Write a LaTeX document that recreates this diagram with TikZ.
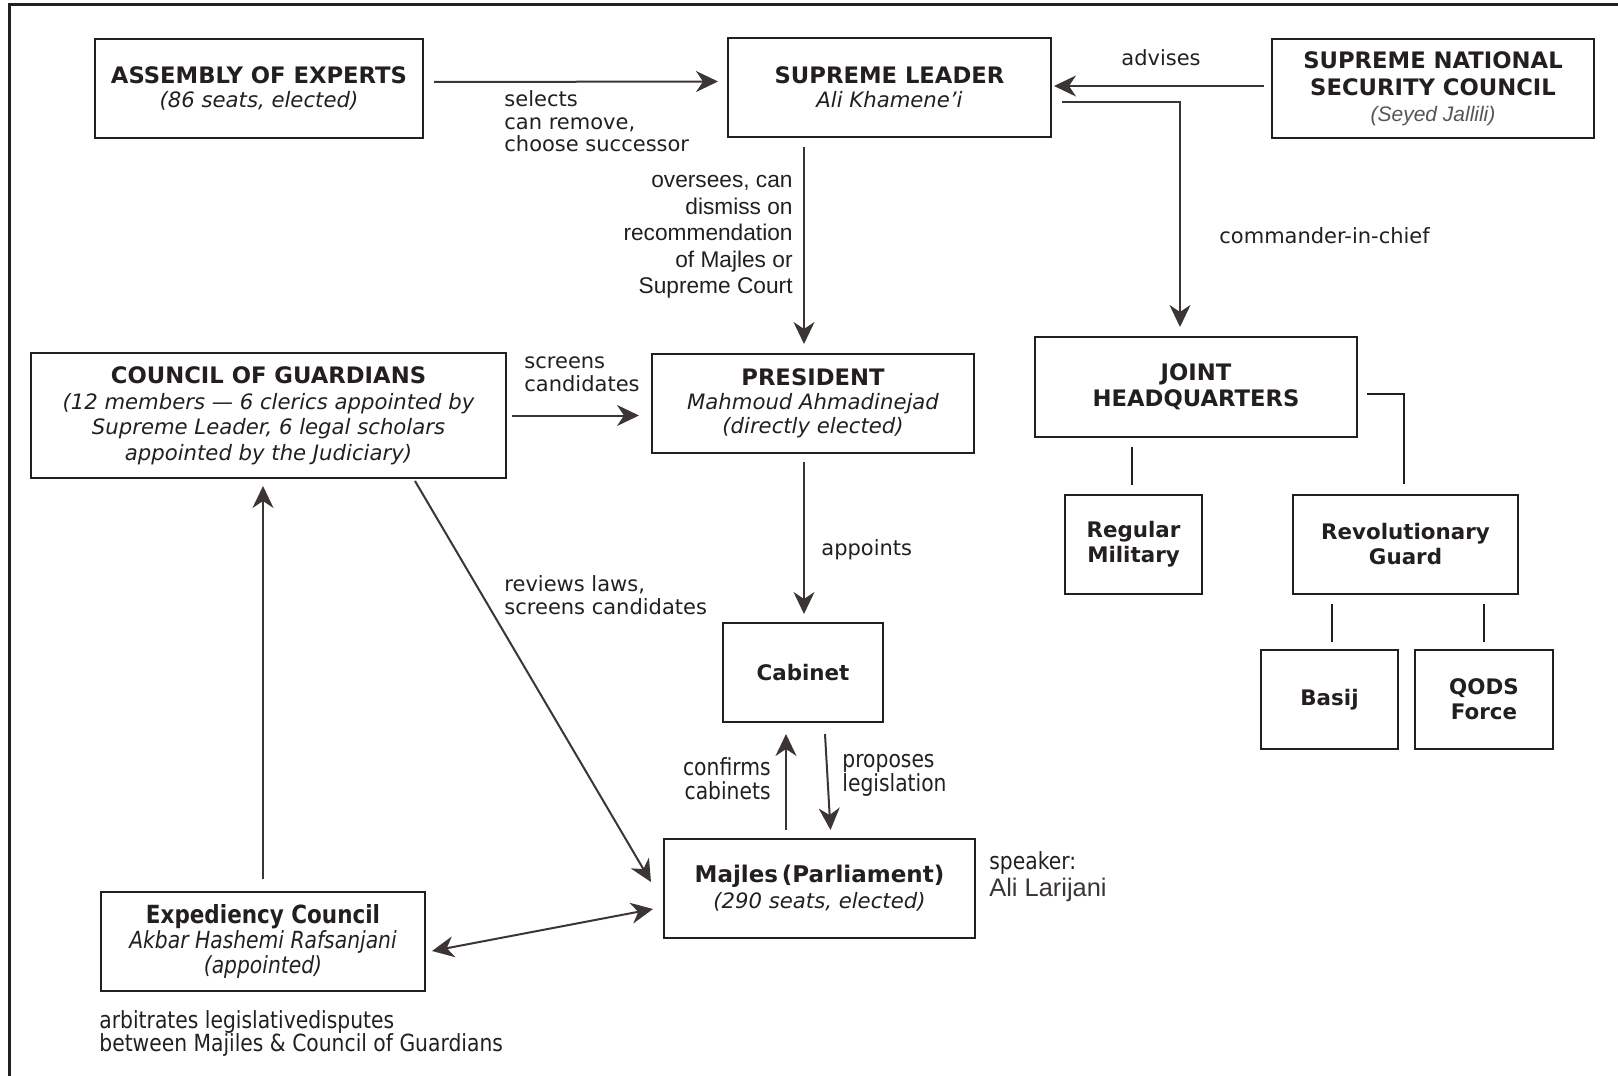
\documentclass[tikz,border=0pt]{standalone}
\usepackage{fontspec}
\setmainfont{DejaVu Sans}
\newfontfamily\cond[FakeStretch=0.86]{DejaVu Sans}
\newfontfamily\arialf{Liberation Sans}
\usetikzlibrary{arrows.meta}
\definecolor{ink}{HTML}{231F20}
\definecolor{arrowc}{HTML}{3D3434}
\definecolor{greyt}{HTML}{555555}
\tikzset{
  box/.style={draw=ink, line width=1pt, rectangle, align=center, inner sep=0pt, text=ink},
  lbl/.style={font=\fontsize{10.5}{11.3}\selectfont, text=ink, inner sep=0pt},
  clbl/.style={font=\cond\fontsize{11.8}{12}\selectfont, text=ink, inner sep=0pt},
  arr/.style={draw=arrowc, line width=1pt, -{Stealth[length=11pt,width=10.5pt,inset=3.5pt]}},
  darr/.style={draw=arrowc, line width=1pt, {Stealth[length=11pt,width=10.5pt,inset=3.5pt]}-{Stealth[length=11pt,width=10.5pt,inset=3.5pt]}},
  lnk/.style={draw=ink, line width=1pt},
}
\newcommand{\itx}[1]{{\fontsize{10.6}{12.5}\selectfont\itshape #1}}
\newcommand{\ttx}[1]{{\fontsize{11.35}{13}\selectfont\bfseries #1}}
\newcommand{\btx}[1]{{\fontsize{10.7}{13}\selectfont\bfseries #1}}
\begin{document}
\begin{tikzpicture}[x=0.5pt,y=-0.5pt]
\useasboundingbox (0,0) rectangle (1618,1076);
% frame (top and left edges)
\draw[ink, line width=1.5pt] (9,1076) -- (9,4) -- (1618,4);

% nodes
\node[box, minimum width=164pt, minimum height=49.5pt] (ae) at (259,88)
  {\ttx{ASSEMBLY OF EXPERTS}\\[0pt]\itx{(86 seats, elected)}};
\node[box, minimum width=161.5pt, minimum height=49.5pt] (sl) at (889.5,87.5)
  {\ttx{SUPREME LEADER}\\[0pt]\itx{Ali Khamene'i}};
\node[box, minimum width=161pt, minimum height=49.5pt] (snsc) at (1433,88.5)
  {\ttx{SUPREME NATIONAL}\\[1.5pt]\ttx{SECURITY COUNCIL}\\[1pt]{\arialf\fontsize{10.5}{12.5}\selectfont\itshape\color{greyt}(Seyed Jallili)}};
\node[box, minimum width=237.5pt, minimum height=62.5pt] (cog) at (268.5,415.5)
  {\ttx{COUNCIL OF GUARDIANS}\\[1pt]\itx{(12 members --- 6 clerics appointed by}\\[0.7pt]\itx{Supreme Leader, 6 legal scholars}\\[0.7pt]\itx{appointed by the Judiciary)}};
\node[box, minimum width=161pt, minimum height=49.5pt] (pres) at (813,403.5)
  {\ttx{PRESIDENT}\\[0pt]\itx{Mahmoud Ahmadinejad}\\[0pt]\itx{(directly elected)}};
\node[box, minimum width=161pt, minimum height=50pt] (jhq) at (1196,387)
  {\ttx{JOINT}\\[1pt]\ttx{HEADQUARTERS}};
\node[box, minimum width=68.5pt, minimum height=49.5pt] (rm) at (1133.5,544.5)
  {\btx{Regular}\\[0.5pt]\btx{Military}};
\node[box, minimum width=112.5pt, minimum height=49.5pt] (rg) at (1405.5,544.5)
  {\btx{Revolutionary}\\[0.5pt]\btx{Guard}};
\node[box, minimum width=68.5pt, minimum height=49.5pt] (basij) at (1329.5,699.5)
  {\btx{Basij}};
\node[box, minimum width=69pt, minimum height=49.5pt] (qods) at (1484,699.5)
  {\btx{QODS}\\[0.5pt]\btx{Force}};
\node[box, minimum width=80pt, minimum height=49.5pt] (cab) at (803,672.5)
  {\btx{Cabinet}};
\node[box, minimum width=155.5pt, minimum height=49.5pt] (maj) at (819.5,888.5)
  {{\fontsize{11.5}{13}\selectfont\bfseries Majles\,(Parliament)}\\[1pt]\itx{(290 seats, elected)}};
\node[box, minimum width=162pt, minimum height=49.5pt] (exp) at (263,941.5)
  {{\cond\fontsize{12.5}{13}\selectfont\bfseries Expediency Council}\\[0.5pt]{\cond\fontsize{11.8}{12.5}\selectfont\itshape Akbar Hashemi Rafsanjani}\\[0.5pt]{\cond\fontsize{11.8}{12.5}\selectfont\itshape (appointed)}};

% labels
\node[lbl, align=left, anchor=west] (l1) at (504,121.5) {selects\\can remove,\\choose successor};
\node[lbl] (l2) at (1161,58) {advises};
\node[lbl, anchor=west] (l3) at (1219,236) {commander-in-chief};
\node[align=right, anchor=east, inner sep=0pt, text=ink, font=\arialf\fontsize{11.35}{13.25}\selectfont] (l4) at (793,237)
  {oversees, can\\dismiss on\\recommendation\\of Majles or\\Supreme Court};
\node[lbl, align=left, anchor=west] (l5) at (524,374) {screens\\candidates};
\node[lbl, anchor=west] (l6) at (821,550) {appoints};
\node[lbl, align=left, anchor=west] (l7) at (504,595) {reviews laws,\\screens candidates};
\node[clbl, align=right, anchor=east] (l8) at (771,778.5) {confirms\\cabinets};
\node[clbl, align=left, anchor=west] (l9) at (842,775) {proposes\\legislation};
\node[clbl, anchor=west] (l10) at (989,863) {speaker:};
\node[anchor=west, inner sep=0pt, text=ink!90, font=\arialf\fontsize{12.7}{14}\selectfont] (l11) at (989,890) {Ali Larijani};
\node[clbl, align=left, anchor=west, font=\cond\fontsize{11.8}{11.5}\selectfont] (l12) at (99,1033)
  {arbitrates legislativedisputes\\between Majiles \& Council of Guardians};

% connectors
\draw[arr] ([xshift=5pt,yshift=3pt]ae.east) -- ([xshift=-4.5pt,yshift=3pt]sl.west);
\draw[arr] ([xshift=-3.5pt,yshift=1.25pt]snsc.west) -- ([xshift=1pt,yshift=1.25pt]snsc.west -| sl.east);
\draw[arr] ([xshift=5pt,yshift=-7.25pt]sl.east) -| ([xshift=-8pt,yshift=4.5pt]jhq.north);
\draw[arr] ([xshift=-42.75pt,yshift=-4.5pt]sl.south) -- ([xshift=-4.5pt,yshift=4.5pt]pres.north);
\draw[arr] ([xshift=2.5pt]cog.east) -- ([xshift=-6pt]cog.east -| pres.west);
\draw[arr] ([xshift=-4.5pt,yshift=-4pt]pres.south) -- ([xshift=0.5pt,yshift=4pt]cab.north);
\draw[arr] ([xshift=73.25pt,yshift=-1pt]cog.south) -- ([xshift=-6pt,yshift=3.25pt]maj.west);
\draw[arr] ([xshift=-16.75pt,yshift=4pt]maj.north) -- ([xshift=-8.5pt,yshift=-5.5pt]cab.south);
\draw[arr] ([xshift=11pt,yshift=-5.5pt]cab.south) -- ([xshift=5.5pt,yshift=4pt]maj.north);
\draw[arr] ([yshift=6pt]exp.north) -- ([xshift=-2.75pt,yshift=-3.5pt]cog.south);
\draw[darr] ([xshift=3pt,yshift=-4.75pt]exp.east) -- ([xshift=-5pt,yshift=-10.25pt]maj.west);
\draw[lnk] ([xshift=-32pt,yshift=-4.5pt]jhq.south) -- ([xshift=-0.75pt,yshift=4.5pt]rm.north);
\draw[lnk] ([xshift=4.5pt,yshift=-3.5pt]jhq.east) -| ([xshift=-0.75pt,yshift=5pt]rg.north);
\draw[lnk] ([xshift=-36.75pt,yshift=-4.5pt]rg.south) -- ([xshift=1.25pt,yshift=3.5pt]basij.north);
\draw[lnk] ([xshift=39.25pt,yshift=-4.5pt]rg.south) -- ([yshift=3.5pt]qods.north);
\end{tikzpicture}
\end{document}
